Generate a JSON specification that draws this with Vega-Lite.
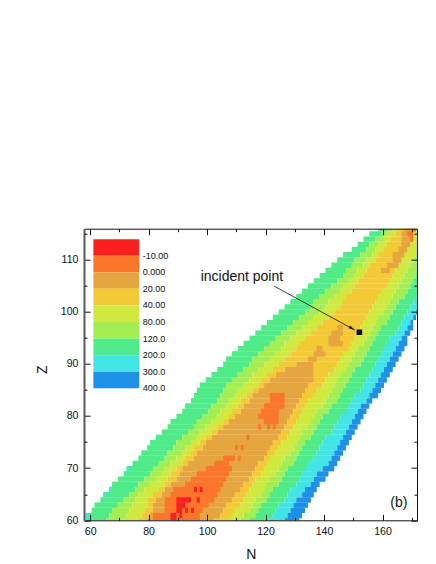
{"$schema":"https://vega.github.io/schema/vega-lite/v6.json","width":333,"height":291.6,"autosize":{"type":"none"},"padding":{"left":84,"top":228.7,"right":19,"bottom":43.7},"background":"white","config":{"view":{"stroke":null},"font":"Liberation Sans","axis":{"grid":false,"labelFont":"Liberation Sans","titleFont":"Liberation Sans","labelColor":"#111","titleColor":"#111","tickColor":"#111","domainColor":"#111"}},"resolve":{"axis":{"x":"independent","y":"independent"}},
"datasets":{"anchor":[{"N":100,"Z":100}],"key":[{"c":"r","a":61.1,"b":76.8,"Z":113.9,"Z2":110.72,"t":"-10.00"},{"c":"o","a":61.1,"b":76.8,"Z":110.72,"Z2":107.54,"t":"0.000"},{"c":"t","a":61.1,"b":76.8,"Z":107.54,"Z2":104.37,"t":"20.00"},{"c":"y","a":61.1,"b":76.8,"Z":104.37,"Z2":101.19,"t":"40.00"},{"c":"v","a":61.1,"b":76.8,"Z":101.19,"Z2":98.01,"t":"80.00"},{"c":"l","a":61.1,"b":76.8,"Z":98.01,"Z2":94.83,"t":"120.0"},{"c":"g","a":61.1,"b":76.8,"Z":94.83,"Z2":91.66,"t":"200.0"},{"c":"c","a":61.1,"b":76.8,"Z":91.66,"Z2":88.48,"t":"300.0"},{"c":"b","a":61.1,"b":76.8,"Z":88.48,"Z2":85.3,"t":"400.0"}],
"cells":[
{"Z":60,"N":58.5,"N2":65.5,"c":"g"},{"Z":60,"N":65.5,"N2":71.5,"c":"l"},{"Z":60,"N":71.5,"N2":76.5,"c":"v"},{"Z":60,"N":76.5,"N2":79.5,"c":"y"},{"Z":60,"N":79.5,"N2":102.5,"c":"t"},{"Z":60,"N":102.5,"N2":107.5,"c":"y"},{"Z":60,"N":107.5,"N2":111.5,"c":"v"},{"Z":60,"N":111.5,"N2":114.5,"c":"l"},{"Z":60,"N":114.5,"N2":120.5,"c":"g"},{"Z":60,"N":120.5,"N2":126.5,"c":"c"},{"Z":60,"N":126.5,"N2":131.5,"c":"b"},
{"Z":61,"N":58.5,"N2":66.5,"c":"g"},{"Z":61,"N":66.5,"N2":72.5,"c":"l"},{"Z":61,"N":72.5,"N2":77.5,"c":"v"},{"Z":61,"N":77.5,"N2":80.5,"c":"y"},{"Z":61,"N":80.5,"N2":104.5,"c":"t"},{"Z":61,"N":104.5,"N2":108.5,"c":"y"},{"Z":61,"N":108.5,"N2":112.5,"c":"v"},{"Z":61,"N":112.5,"N2":116.5,"c":"l"},{"Z":61,"N":116.5,"N2":122.5,"c":"g"},{"Z":61,"N":122.5,"N2":127.5,"c":"c"},{"Z":61,"N":127.5,"N2":132.5,"c":"b"},
{"Z":62,"N":60.5,"N2":67.5,"c":"g"},{"Z":62,"N":67.5,"N2":73.5,"c":"l"},{"Z":62,"N":73.5,"N2":78.5,"c":"v"},{"Z":62,"N":78.5,"N2":81.5,"c":"y"},{"Z":62,"N":81.5,"N2":105.5,"c":"t"},{"Z":62,"N":105.5,"N2":109.5,"c":"y"},{"Z":62,"N":109.5,"N2":114.5,"c":"v"},{"Z":62,"N":114.5,"N2":117.5,"c":"l"},{"Z":62,"N":117.5,"N2":123.5,"c":"g"},{"Z":62,"N":123.5,"N2":128.5,"c":"c"},{"Z":62,"N":128.5,"N2":133.5,"c":"b"},
{"Z":63,"N":61.5,"N2":69.5,"c":"g"},{"Z":63,"N":69.5,"N2":74.5,"c":"l"},{"Z":63,"N":74.5,"N2":79.5,"c":"v"},{"Z":63,"N":79.5,"N2":81.5,"c":"y"},{"Z":63,"N":81.5,"N2":106.5,"c":"t"},{"Z":63,"N":106.5,"N2":111.5,"c":"y"},{"Z":63,"N":111.5,"N2":115.5,"c":"v"},{"Z":63,"N":115.5,"N2":118.5,"c":"l"},{"Z":63,"N":118.5,"N2":124.5,"c":"g"},{"Z":63,"N":124.5,"N2":129.5,"c":"c"},{"Z":63,"N":129.5,"N2":134.5,"c":"b"},
{"Z":64,"N":63.5,"N2":71.5,"c":"g"},{"Z":64,"N":71.5,"N2":75.5,"c":"l"},{"Z":64,"N":75.5,"N2":79.5,"c":"v"},{"Z":64,"N":79.5,"N2":82.5,"c":"y"},{"Z":64,"N":82.5,"N2":108.5,"c":"t"},{"Z":64,"N":108.5,"N2":112.5,"c":"y"},{"Z":64,"N":112.5,"N2":116.5,"c":"v"},{"Z":64,"N":116.5,"N2":120.5,"c":"l"},{"Z":64,"N":120.5,"N2":126.5,"c":"g"},{"Z":64,"N":126.5,"N2":130.5,"c":"c"},{"Z":64,"N":130.5,"N2":135.5,"c":"b"},
{"Z":65,"N":64.5,"N2":73.5,"c":"g"},{"Z":65,"N":73.5,"N2":76.5,"c":"l"},{"Z":65,"N":76.5,"N2":81.5,"c":"v"},{"Z":65,"N":81.5,"N2":84.5,"c":"y"},{"Z":65,"N":84.5,"N2":109.5,"c":"t"},{"Z":65,"N":109.5,"N2":113.5,"c":"y"},{"Z":65,"N":113.5,"N2":118.5,"c":"v"},{"Z":65,"N":118.5,"N2":121.5,"c":"l"},{"Z":65,"N":121.5,"N2":127.5,"c":"g"},{"Z":65,"N":127.5,"N2":132.5,"c":"c"},{"Z":65,"N":132.5,"N2":136.5,"c":"b"},
{"Z":66,"N":66.5,"N2":75.5,"c":"g"},{"Z":66,"N":75.5,"N2":78.5,"c":"l"},{"Z":66,"N":78.5,"N2":83.5,"c":"v"},{"Z":66,"N":83.5,"N2":85.5,"c":"y"},{"Z":66,"N":85.5,"N2":111.5,"c":"t"},{"Z":66,"N":111.5,"N2":114.5,"c":"y"},{"Z":66,"N":114.5,"N2":119.5,"c":"v"},{"Z":66,"N":119.5,"N2":122.5,"c":"l"},{"Z":66,"N":122.5,"N2":128.5,"c":"g"},{"Z":66,"N":128.5,"N2":133.5,"c":"c"},{"Z":66,"N":133.5,"N2":137.5,"c":"b"},
{"Z":67,"N":67.5,"N2":76.5,"c":"g"},{"Z":67,"N":76.5,"N2":80.5,"c":"l"},{"Z":67,"N":80.5,"N2":85.5,"c":"v"},{"Z":67,"N":85.5,"N2":87.5,"c":"y"},{"Z":67,"N":87.5,"N2":112.5,"c":"t"},{"Z":67,"N":112.5,"N2":115.5,"c":"y"},{"Z":67,"N":115.5,"N2":120.5,"c":"v"},{"Z":67,"N":120.5,"N2":124.5,"c":"l"},{"Z":67,"N":124.5,"N2":130.5,"c":"g"},{"Z":67,"N":130.5,"N2":135.5,"c":"c"},{"Z":67,"N":135.5,"N2":138.5,"c":"b"},
{"Z":68,"N":69.5,"N2":78.5,"c":"g"},{"Z":68,"N":78.5,"N2":82.5,"c":"l"},{"Z":68,"N":82.5,"N2":86.5,"c":"v"},{"Z":68,"N":86.5,"N2":89.5,"c":"y"},{"Z":68,"N":89.5,"N2":114.5,"c":"t"},{"Z":68,"N":114.5,"N2":116.5,"c":"y"},{"Z":68,"N":116.5,"N2":121.5,"c":"v"},{"Z":68,"N":121.5,"N2":125.5,"c":"l"},{"Z":68,"N":125.5,"N2":131.5,"c":"g"},{"Z":68,"N":131.5,"N2":136.5,"c":"c"},{"Z":68,"N":136.5,"N2":140.5,"c":"b"},
{"Z":69,"N":71.5,"N2":80.5,"c":"g"},{"Z":69,"N":80.5,"N2":84.5,"c":"l"},{"Z":69,"N":84.5,"N2":87.5,"c":"v"},{"Z":69,"N":87.5,"N2":90.5,"c":"y"},{"Z":69,"N":90.5,"N2":115.5,"c":"t"},{"Z":69,"N":115.5,"N2":118.5,"c":"y"},{"Z":69,"N":118.5,"N2":123.5,"c":"v"},{"Z":69,"N":123.5,"N2":126.5,"c":"l"},{"Z":69,"N":126.5,"N2":132.5,"c":"g"},{"Z":69,"N":132.5,"N2":137.5,"c":"c"},{"Z":69,"N":137.5,"N2":141.5,"c":"b"},
{"Z":70,"N":72.5,"N2":81.5,"c":"g"},{"Z":70,"N":81.5,"N2":85.5,"c":"l"},{"Z":70,"N":85.5,"N2":89.5,"c":"v"},{"Z":70,"N":89.5,"N2":91.5,"c":"y"},{"Z":70,"N":91.5,"N2":116.5,"c":"t"},{"Z":70,"N":116.5,"N2":119.5,"c":"y"},{"Z":70,"N":119.5,"N2":124.5,"c":"v"},{"Z":70,"N":124.5,"N2":127.5,"c":"l"},{"Z":70,"N":127.5,"N2":133.5,"c":"g"},{"Z":70,"N":133.5,"N2":139.5,"c":"c"},{"Z":70,"N":139.5,"N2":143.5,"c":"b"},
{"Z":71,"N":74.5,"N2":83.5,"c":"g"},{"Z":71,"N":83.5,"N2":87.5,"c":"l"},{"Z":71,"N":87.5,"N2":91.5,"c":"v"},{"Z":71,"N":91.5,"N2":93.5,"c":"y"},{"Z":71,"N":93.5,"N2":117.5,"c":"t"},{"Z":71,"N":117.5,"N2":120.5,"c":"y"},{"Z":71,"N":120.5,"N2":125.5,"c":"v"},{"Z":71,"N":125.5,"N2":129.5,"c":"l"},{"Z":71,"N":129.5,"N2":134.5,"c":"g"},{"Z":71,"N":134.5,"N2":141.5,"c":"c"},{"Z":71,"N":141.5,"N2":144.5,"c":"b"},
{"Z":72,"N":76.5,"N2":85.5,"c":"g"},{"Z":72,"N":85.5,"N2":89.5,"c":"l"},{"Z":72,"N":89.5,"N2":92.5,"c":"v"},{"Z":72,"N":92.5,"N2":95.5,"c":"y"},{"Z":72,"N":95.5,"N2":119.5,"c":"t"},{"Z":72,"N":119.5,"N2":121.5,"c":"y"},{"Z":72,"N":121.5,"N2":126.5,"c":"v"},{"Z":72,"N":126.5,"N2":130.5,"c":"l"},{"Z":72,"N":130.5,"N2":136.5,"c":"g"},{"Z":72,"N":136.5,"N2":142.5,"c":"c"},{"Z":72,"N":142.5,"N2":145.5,"c":"b"},
{"Z":73,"N":77.5,"N2":86.5,"c":"g"},{"Z":73,"N":86.5,"N2":91.5,"c":"l"},{"Z":73,"N":91.5,"N2":94.5,"c":"v"},{"Z":73,"N":94.5,"N2":96.5,"c":"y"},{"Z":73,"N":96.5,"N2":120.5,"c":"t"},{"Z":73,"N":120.5,"N2":123.5,"c":"y"},{"Z":73,"N":123.5,"N2":128.5,"c":"v"},{"Z":73,"N":128.5,"N2":131.5,"c":"l"},{"Z":73,"N":131.5,"N2":137.5,"c":"g"},{"Z":73,"N":137.5,"N2":143.5,"c":"c"},{"Z":73,"N":143.5,"N2":146.5,"c":"b"},
{"Z":74,"N":79.5,"N2":88.5,"c":"g"},{"Z":74,"N":88.5,"N2":92.5,"c":"l"},{"Z":74,"N":92.5,"N2":95.5,"c":"v"},{"Z":74,"N":95.5,"N2":98.5,"c":"y"},{"Z":74,"N":98.5,"N2":121.5,"c":"t"},{"Z":74,"N":121.5,"N2":124.5,"c":"y"},{"Z":74,"N":124.5,"N2":129.5,"c":"v"},{"Z":74,"N":129.5,"N2":132.5,"c":"l"},{"Z":74,"N":132.5,"N2":138.5,"c":"g"},{"Z":74,"N":138.5,"N2":144.5,"c":"c"},{"Z":74,"N":144.5,"N2":147.5,"c":"b"},
{"Z":75,"N":80.5,"N2":89.5,"c":"g"},{"Z":75,"N":89.5,"N2":94.5,"c":"l"},{"Z":75,"N":94.5,"N2":97.5,"c":"v"},{"Z":75,"N":97.5,"N2":99.5,"c":"y"},{"Z":75,"N":99.5,"N2":122.5,"c":"t"},{"Z":75,"N":122.5,"N2":125.5,"c":"y"},{"Z":75,"N":125.5,"N2":130.5,"c":"v"},{"Z":75,"N":130.5,"N2":133.5,"c":"l"},{"Z":75,"N":133.5,"N2":139.5,"c":"g"},{"Z":75,"N":139.5,"N2":145.5,"c":"c"},{"Z":75,"N":145.5,"N2":148.5,"c":"b"},
{"Z":76,"N":82.5,"N2":91.5,"c":"g"},{"Z":76,"N":91.5,"N2":96.5,"c":"l"},{"Z":76,"N":96.5,"N2":99.5,"c":"v"},{"Z":76,"N":99.5,"N2":101.5,"c":"y"},{"Z":76,"N":101.5,"N2":124.5,"c":"t"},{"Z":76,"N":124.5,"N2":127.5,"c":"y"},{"Z":76,"N":127.5,"N2":131.5,"c":"v"},{"Z":76,"N":131.5,"N2":135.5,"c":"l"},{"Z":76,"N":135.5,"N2":140.5,"c":"g"},{"Z":76,"N":140.5,"N2":146.5,"c":"c"},{"Z":76,"N":146.5,"N2":149.5,"c":"b"},
{"Z":77,"N":84.5,"N2":93.5,"c":"g"},{"Z":77,"N":93.5,"N2":97.5,"c":"l"},{"Z":77,"N":97.5,"N2":101.5,"c":"v"},{"Z":77,"N":101.5,"N2":103.5,"c":"y"},{"Z":77,"N":103.5,"N2":125.5,"c":"t"},{"Z":77,"N":125.5,"N2":128.5,"c":"y"},{"Z":77,"N":128.5,"N2":132.5,"c":"v"},{"Z":77,"N":132.5,"N2":136.5,"c":"l"},{"Z":77,"N":136.5,"N2":142.5,"c":"g"},{"Z":77,"N":142.5,"N2":147.5,"c":"c"},{"Z":77,"N":147.5,"N2":150.5,"c":"b"},
{"Z":78,"N":86.5,"N2":95.5,"c":"g"},{"Z":78,"N":95.5,"N2":99.5,"c":"l"},{"Z":78,"N":99.5,"N2":103.5,"c":"v"},{"Z":78,"N":103.5,"N2":105.5,"c":"y"},{"Z":78,"N":105.5,"N2":126.5,"c":"t"},{"Z":78,"N":126.5,"N2":129.5,"c":"y"},{"Z":78,"N":129.5,"N2":134.5,"c":"v"},{"Z":78,"N":134.5,"N2":137.5,"c":"l"},{"Z":78,"N":137.5,"N2":143.5,"c":"g"},{"Z":78,"N":143.5,"N2":148.5,"c":"c"},{"Z":78,"N":148.5,"N2":151.5,"c":"b"},
{"Z":79,"N":87.5,"N2":96.5,"c":"g"},{"Z":79,"N":96.5,"N2":101.5,"c":"l"},{"Z":79,"N":101.5,"N2":105.5,"c":"v"},{"Z":79,"N":105.5,"N2":107.5,"c":"y"},{"Z":79,"N":107.5,"N2":127.5,"c":"t"},{"Z":79,"N":127.5,"N2":130.5,"c":"y"},{"Z":79,"N":130.5,"N2":135.5,"c":"v"},{"Z":79,"N":135.5,"N2":138.5,"c":"l"},{"Z":79,"N":138.5,"N2":144.5,"c":"g"},{"Z":79,"N":144.5,"N2":149.5,"c":"c"},{"Z":79,"N":149.5,"N2":152.5,"c":"b"},
{"Z":80,"N":89.5,"N2":98.5,"c":"g"},{"Z":80,"N":98.5,"N2":103.5,"c":"l"},{"Z":80,"N":103.5,"N2":107.5,"c":"v"},{"Z":80,"N":107.5,"N2":109.5,"c":"y"},{"Z":80,"N":109.5,"N2":128.5,"c":"t"},{"Z":80,"N":128.5,"N2":131.5,"c":"y"},{"Z":80,"N":131.5,"N2":136.5,"c":"v"},{"Z":80,"N":136.5,"N2":139.5,"c":"l"},{"Z":80,"N":139.5,"N2":145.5,"c":"g"},{"Z":80,"N":145.5,"N2":150.5,"c":"c"},{"Z":80,"N":150.5,"N2":153.5,"c":"b"},
{"Z":81,"N":91.5,"N2":100.5,"c":"g"},{"Z":81,"N":100.5,"N2":104.5,"c":"l"},{"Z":81,"N":104.5,"N2":108.5,"c":"v"},{"Z":81,"N":108.5,"N2":111.5,"c":"y"},{"Z":81,"N":111.5,"N2":129.5,"c":"t"},{"Z":81,"N":129.5,"N2":132.5,"c":"y"},{"Z":81,"N":132.5,"N2":137.5,"c":"v"},{"Z":81,"N":137.5,"N2":141.5,"c":"l"},{"Z":81,"N":141.5,"N2":147.5,"c":"g"},{"Z":81,"N":147.5,"N2":151.5,"c":"c"},{"Z":81,"N":151.5,"N2":154.5,"c":"b"},
{"Z":82,"N":92.5,"N2":101.5,"c":"g"},{"Z":82,"N":101.5,"N2":106.5,"c":"l"},{"Z":82,"N":106.5,"N2":110.5,"c":"v"},{"Z":82,"N":110.5,"N2":112.5,"c":"y"},{"Z":82,"N":112.5,"N2":130.5,"c":"t"},{"Z":82,"N":130.5,"N2":133.5,"c":"y"},{"Z":82,"N":133.5,"N2":139.5,"c":"v"},{"Z":82,"N":139.5,"N2":142.5,"c":"l"},{"Z":82,"N":142.5,"N2":148.5,"c":"g"},{"Z":82,"N":148.5,"N2":152.5,"c":"c"},{"Z":82,"N":152.5,"N2":155.5,"c":"b"},
{"Z":83,"N":94.5,"N2":103.5,"c":"g"},{"Z":83,"N":103.5,"N2":107.5,"c":"l"},{"Z":83,"N":107.5,"N2":111.5,"c":"v"},{"Z":83,"N":111.5,"N2":114.5,"c":"y"},{"Z":83,"N":114.5,"N2":131.5,"c":"t"},{"Z":83,"N":131.5,"N2":134.5,"c":"y"},{"Z":83,"N":134.5,"N2":140.5,"c":"v"},{"Z":83,"N":140.5,"N2":144.5,"c":"l"},{"Z":83,"N":144.5,"N2":149.5,"c":"g"},{"Z":83,"N":149.5,"N2":154.5,"c":"c"},{"Z":83,"N":154.5,"N2":156.5,"c":"b"},
{"Z":84,"N":95.5,"N2":104.5,"c":"g"},{"Z":84,"N":104.5,"N2":109.5,"c":"l"},{"Z":84,"N":109.5,"N2":113.5,"c":"v"},{"Z":84,"N":113.5,"N2":115.5,"c":"y"},{"Z":84,"N":115.5,"N2":132.5,"c":"t"},{"Z":84,"N":132.5,"N2":136.5,"c":"y"},{"Z":84,"N":136.5,"N2":141.5,"c":"v"},{"Z":84,"N":141.5,"N2":145.5,"c":"l"},{"Z":84,"N":145.5,"N2":150.5,"c":"g"},{"Z":84,"N":150.5,"N2":155.5,"c":"c"},{"Z":84,"N":155.5,"N2":158.5,"c":"b"},
{"Z":85,"N":96.5,"N2":105.5,"c":"g"},{"Z":85,"N":105.5,"N2":110.5,"c":"l"},{"Z":85,"N":110.5,"N2":115.5,"c":"v"},{"Z":85,"N":115.5,"N2":117.5,"c":"y"},{"Z":85,"N":117.5,"N2":133.5,"c":"t"},{"Z":85,"N":133.5,"N2":137.5,"c":"y"},{"Z":85,"N":137.5,"N2":142.5,"c":"v"},{"Z":85,"N":142.5,"N2":146.5,"c":"l"},{"Z":85,"N":146.5,"N2":152.5,"c":"g"},{"Z":85,"N":152.5,"N2":156.5,"c":"c"},{"Z":85,"N":156.5,"N2":159.5,"c":"b"},
{"Z":86,"N":97.5,"N2":106.5,"c":"g"},{"Z":86,"N":106.5,"N2":112.5,"c":"l"},{"Z":86,"N":112.5,"N2":117.5,"c":"v"},{"Z":86,"N":117.5,"N2":119.5,"c":"y"},{"Z":86,"N":119.5,"N2":134.5,"c":"t"},{"Z":86,"N":134.5,"N2":139.5,"c":"y"},{"Z":86,"N":139.5,"N2":143.5,"c":"v"},{"Z":86,"N":143.5,"N2":147.5,"c":"l"},{"Z":86,"N":147.5,"N2":153.5,"c":"g"},{"Z":86,"N":153.5,"N2":157.5,"c":"c"},{"Z":86,"N":157.5,"N2":160.5,"c":"b"},
{"Z":87,"N":99.5,"N2":108.5,"c":"g"},{"Z":87,"N":108.5,"N2":114.5,"c":"l"},{"Z":87,"N":114.5,"N2":118.5,"c":"v"},{"Z":87,"N":118.5,"N2":121.5,"c":"y"},{"Z":87,"N":121.5,"N2":136.5,"c":"t"},{"Z":87,"N":136.5,"N2":140.5,"c":"y"},{"Z":87,"N":140.5,"N2":144.5,"c":"v"},{"Z":87,"N":144.5,"N2":148.5,"c":"l"},{"Z":87,"N":148.5,"N2":154.5,"c":"g"},{"Z":87,"N":154.5,"N2":158.5,"c":"c"},{"Z":87,"N":158.5,"N2":161.5,"c":"b"},
{"Z":88,"N":101.5,"N2":110.5,"c":"g"},{"Z":88,"N":110.5,"N2":115.5,"c":"l"},{"Z":88,"N":115.5,"N2":120.5,"c":"v"},{"Z":88,"N":120.5,"N2":123.5,"c":"y"},{"Z":88,"N":123.5,"N2":136.5,"c":"t"},{"Z":88,"N":136.5,"N2":141.5,"c":"y"},{"Z":88,"N":141.5,"N2":145.5,"c":"v"},{"Z":88,"N":145.5,"N2":149.5,"c":"l"},{"Z":88,"N":149.5,"N2":155.5,"c":"g"},{"Z":88,"N":155.5,"N2":159.5,"c":"c"},{"Z":88,"N":159.5,"N2":162.5,"c":"b"},
{"Z":89,"N":103.5,"N2":112.5,"c":"g"},{"Z":89,"N":112.5,"N2":117.5,"c":"l"},{"Z":89,"N":117.5,"N2":122.5,"c":"v"},{"Z":89,"N":122.5,"N2":126.5,"c":"y"},{"Z":89,"N":126.5,"N2":136.5,"c":"t"},{"Z":89,"N":136.5,"N2":143.5,"c":"y"},{"Z":89,"N":143.5,"N2":147.5,"c":"v"},{"Z":89,"N":147.5,"N2":150.5,"c":"l"},{"Z":89,"N":150.5,"N2":156.5,"c":"g"},{"Z":89,"N":156.5,"N2":160.5,"c":"c"},{"Z":89,"N":160.5,"N2":163.5,"c":"b"},
{"Z":90,"N":105.5,"N2":114.5,"c":"g"},{"Z":90,"N":114.5,"N2":119.5,"c":"l"},{"Z":90,"N":119.5,"N2":124.5,"c":"v"},{"Z":90,"N":124.5,"N2":130.5,"c":"y"},{"Z":90,"N":130.5,"N2":136.5,"c":"t"},{"Z":90,"N":136.5,"N2":144.5,"c":"y"},{"Z":90,"N":144.5,"N2":148.5,"c":"v"},{"Z":90,"N":148.5,"N2":152.5,"c":"l"},{"Z":90,"N":152.5,"N2":157.5,"c":"g"},{"Z":90,"N":157.5,"N2":161.5,"c":"c"},{"Z":90,"N":161.5,"N2":164.5,"c":"b"},
{"Z":91,"N":106.5,"N2":115.5,"c":"g"},{"Z":91,"N":115.5,"N2":121.5,"c":"l"},{"Z":91,"N":121.5,"N2":126.5,"c":"v"},{"Z":91,"N":126.5,"N2":145.5,"c":"y"},{"Z":91,"N":145.5,"N2":149.5,"c":"v"},{"Z":91,"N":149.5,"N2":153.5,"c":"l"},{"Z":91,"N":153.5,"N2":158.5,"c":"g"},{"Z":91,"N":158.5,"N2":162.5,"c":"c"},{"Z":91,"N":162.5,"N2":165.5,"c":"b"},
{"Z":92,"N":108.5,"N2":117.5,"c":"g"},{"Z":92,"N":117.5,"N2":123.5,"c":"l"},{"Z":92,"N":123.5,"N2":128.5,"c":"v"},{"Z":92,"N":128.5,"N2":146.5,"c":"y"},{"Z":92,"N":146.5,"N2":150.5,"c":"v"},{"Z":92,"N":150.5,"N2":154.5,"c":"l"},{"Z":92,"N":154.5,"N2":159.5,"c":"g"},{"Z":92,"N":159.5,"N2":163.5,"c":"c"},{"Z":92,"N":163.5,"N2":166.5,"c":"b"},
{"Z":93,"N":110.5,"N2":119.5,"c":"g"},{"Z":93,"N":119.5,"N2":125.5,"c":"l"},{"Z":93,"N":125.5,"N2":130.5,"c":"v"},{"Z":93,"N":130.5,"N2":148.5,"c":"y"},{"Z":93,"N":148.5,"N2":151.5,"c":"v"},{"Z":93,"N":151.5,"N2":155.5,"c":"l"},{"Z":93,"N":155.5,"N2":160.5,"c":"g"},{"Z":93,"N":160.5,"N2":164.5,"c":"c"},{"Z":93,"N":164.5,"N2":167.5,"c":"b"},
{"Z":94,"N":112.5,"N2":121.5,"c":"g"},{"Z":94,"N":121.5,"N2":126.5,"c":"l"},{"Z":94,"N":126.5,"N2":131.5,"c":"v"},{"Z":94,"N":131.5,"N2":149.5,"c":"y"},{"Z":94,"N":149.5,"N2":153.5,"c":"v"},{"Z":94,"N":153.5,"N2":156.5,"c":"l"},{"Z":94,"N":156.5,"N2":161.5,"c":"g"},{"Z":94,"N":161.5,"N2":165.5,"c":"c"},{"Z":94,"N":165.5,"N2":168.5,"c":"b"},
{"Z":95,"N":114.5,"N2":123.5,"c":"g"},{"Z":95,"N":123.5,"N2":128.5,"c":"l"},{"Z":95,"N":128.5,"N2":133.5,"c":"v"},{"Z":95,"N":133.5,"N2":150.5,"c":"y"},{"Z":95,"N":150.5,"N2":154.5,"c":"v"},{"Z":95,"N":154.5,"N2":157.5,"c":"l"},{"Z":95,"N":157.5,"N2":162.5,"c":"g"},{"Z":95,"N":162.5,"N2":166.5,"c":"c"},{"Z":95,"N":166.5,"N2":168.5,"c":"b"},
{"Z":96,"N":116.5,"N2":125.5,"c":"g"},{"Z":96,"N":125.5,"N2":130.5,"c":"l"},{"Z":96,"N":130.5,"N2":135.5,"c":"v"},{"Z":96,"N":135.5,"N2":151.5,"c":"y"},{"Z":96,"N":151.5,"N2":155.5,"c":"v"},{"Z":96,"N":155.5,"N2":158.5,"c":"l"},{"Z":96,"N":158.5,"N2":164.5,"c":"g"},{"Z":96,"N":164.5,"N2":167.5,"c":"c"},{"Z":96,"N":167.5,"N2":169.5,"c":"b"},
{"Z":97,"N":118.5,"N2":127.5,"c":"g"},{"Z":97,"N":127.5,"N2":132.5,"c":"l"},{"Z":97,"N":132.5,"N2":137.5,"c":"v"},{"Z":97,"N":137.5,"N2":152.5,"c":"y"},{"Z":97,"N":152.5,"N2":156.5,"c":"v"},{"Z":97,"N":156.5,"N2":159.5,"c":"l"},{"Z":97,"N":159.5,"N2":165.5,"c":"g"},{"Z":97,"N":165.5,"N2":168.5,"c":"c"},{"Z":97,"N":168.5,"N2":170.5,"c":"b"},
{"Z":98,"N":120.5,"N2":129.5,"c":"g"},{"Z":98,"N":129.5,"N2":134.5,"c":"l"},{"Z":98,"N":134.5,"N2":139.5,"c":"v"},{"Z":98,"N":139.5,"N2":153.5,"c":"y"},{"Z":98,"N":153.5,"N2":157.5,"c":"v"},{"Z":98,"N":157.5,"N2":161.5,"c":"l"},{"Z":98,"N":161.5,"N2":166.5,"c":"g"},{"Z":98,"N":166.5,"N2":169.5,"c":"c"},{"Z":98,"N":169.5,"N2":170.5,"c":"b"},
{"Z":99,"N":122.5,"N2":131.5,"c":"g"},{"Z":99,"N":131.5,"N2":136.5,"c":"l"},{"Z":99,"N":136.5,"N2":141.5,"c":"v"},{"Z":99,"N":141.5,"N2":154.5,"c":"y"},{"Z":99,"N":154.5,"N2":158.5,"c":"v"},{"Z":99,"N":158.5,"N2":162.5,"c":"l"},{"Z":99,"N":162.5,"N2":167.5,"c":"g"},{"Z":99,"N":167.5,"N2":170.5,"c":"c"},{"Z":99,"N":170.5,"N2":171.5,"c":"b"},
{"Z":100,"N":124.5,"N2":133.5,"c":"g"},{"Z":100,"N":133.5,"N2":138.5,"c":"l"},{"Z":100,"N":138.5,"N2":143.5,"c":"v"},{"Z":100,"N":143.5,"N2":155.5,"c":"y"},{"Z":100,"N":155.5,"N2":160.5,"c":"v"},{"Z":100,"N":160.5,"N2":163.5,"c":"l"},{"Z":100,"N":163.5,"N2":168.5,"c":"g"},{"Z":100,"N":168.5,"N2":171.5,"c":"c"},{"Z":100,"N":171.5,"N2":172,"c":"b"},
{"Z":101,"N":126.5,"N2":135.5,"c":"g"},{"Z":101,"N":135.5,"N2":140.5,"c":"l"},{"Z":101,"N":140.5,"N2":145.5,"c":"v"},{"Z":101,"N":145.5,"N2":156.5,"c":"y"},{"Z":101,"N":156.5,"N2":161.5,"c":"v"},{"Z":101,"N":161.5,"N2":164.5,"c":"l"},{"Z":101,"N":164.5,"N2":169.5,"c":"g"},{"Z":101,"N":169.5,"N2":172,"c":"c"},
{"Z":102,"N":128.5,"N2":136.5,"c":"g"},{"Z":102,"N":136.5,"N2":141.5,"c":"l"},{"Z":102,"N":141.5,"N2":146.5,"c":"v"},{"Z":102,"N":146.5,"N2":157.5,"c":"y"},{"Z":102,"N":157.5,"N2":162.5,"c":"v"},{"Z":102,"N":162.5,"N2":165.5,"c":"l"},{"Z":102,"N":165.5,"N2":170.5,"c":"g"},{"Z":102,"N":170.5,"N2":172,"c":"c"},
{"Z":103,"N":130.5,"N2":138.5,"c":"g"},{"Z":103,"N":138.5,"N2":143.5,"c":"l"},{"Z":103,"N":143.5,"N2":147.5,"c":"v"},{"Z":103,"N":147.5,"N2":158.5,"c":"y"},{"Z":103,"N":158.5,"N2":163.5,"c":"v"},{"Z":103,"N":163.5,"N2":167.5,"c":"l"},{"Z":103,"N":167.5,"N2":171.5,"c":"g"},{"Z":103,"N":171.5,"N2":172,"c":"c"},
{"Z":104,"N":132.5,"N2":140.5,"c":"g"},{"Z":104,"N":140.5,"N2":145.5,"c":"l"},{"Z":104,"N":145.5,"N2":149.5,"c":"v"},{"Z":104,"N":149.5,"N2":159.5,"c":"y"},{"Z":104,"N":159.5,"N2":164.5,"c":"v"},{"Z":104,"N":164.5,"N2":168.5,"c":"l"},{"Z":104,"N":168.5,"N2":172,"c":"g"},
{"Z":105,"N":134.5,"N2":142.5,"c":"g"},{"Z":105,"N":142.5,"N2":146.5,"c":"l"},{"Z":105,"N":146.5,"N2":150.5,"c":"v"},{"Z":105,"N":150.5,"N2":161.5,"c":"y"},{"Z":105,"N":161.5,"N2":165.5,"c":"v"},{"Z":105,"N":165.5,"N2":169.5,"c":"l"},{"Z":105,"N":169.5,"N2":172,"c":"g"},
{"Z":106,"N":136.5,"N2":144.5,"c":"g"},{"Z":106,"N":144.5,"N2":148.5,"c":"l"},{"Z":106,"N":148.5,"N2":151.5,"c":"v"},{"Z":106,"N":151.5,"N2":162.5,"c":"y"},{"Z":106,"N":162.5,"N2":166.5,"c":"v"},{"Z":106,"N":166.5,"N2":170.5,"c":"l"},{"Z":106,"N":170.5,"N2":172,"c":"g"},
{"Z":107,"N":138.5,"N2":146.5,"c":"g"},{"Z":107,"N":146.5,"N2":150.5,"c":"l"},{"Z":107,"N":150.5,"N2":153.5,"c":"v"},{"Z":107,"N":153.5,"N2":163.5,"c":"y"},{"Z":107,"N":163.5,"N2":167.5,"c":"v"},{"Z":107,"N":167.5,"N2":171.5,"c":"l"},{"Z":107,"N":171.5,"N2":172,"c":"g"},
{"Z":108,"N":140.5,"N2":147.5,"c":"g"},{"Z":108,"N":147.5,"N2":151.5,"c":"l"},{"Z":108,"N":151.5,"N2":154.5,"c":"v"},{"Z":108,"N":154.5,"N2":164.5,"c":"y"},{"Z":108,"N":164.5,"N2":168.5,"c":"v"},{"Z":108,"N":168.5,"N2":172,"c":"l"},
{"Z":109,"N":142.5,"N2":149.5,"c":"g"},{"Z":109,"N":149.5,"N2":153.5,"c":"l"},{"Z":109,"N":153.5,"N2":155.5,"c":"v"},{"Z":109,"N":155.5,"N2":165.5,"c":"y"},{"Z":109,"N":165.5,"N2":169.5,"c":"v"},{"Z":109,"N":169.5,"N2":172,"c":"l"},
{"Z":110,"N":144.5,"N2":150.5,"c":"g"},{"Z":110,"N":150.5,"N2":154.5,"c":"l"},{"Z":110,"N":154.5,"N2":157.5,"c":"v"},{"Z":110,"N":157.5,"N2":166.5,"c":"y"},{"Z":110,"N":166.5,"N2":170.5,"c":"v"},{"Z":110,"N":170.5,"N2":172,"c":"l"},
{"Z":111,"N":146.5,"N2":152.5,"c":"g"},{"Z":111,"N":152.5,"N2":156.5,"c":"l"},{"Z":111,"N":156.5,"N2":158.5,"c":"v"},{"Z":111,"N":158.5,"N2":167.5,"c":"y"},{"Z":111,"N":167.5,"N2":171.5,"c":"v"},{"Z":111,"N":171.5,"N2":172,"c":"l"},
{"Z":112,"N":149.5,"N2":154.5,"c":"g"},{"Z":112,"N":154.5,"N2":157.5,"c":"l"},{"Z":112,"N":157.5,"N2":160.5,"c":"v"},{"Z":112,"N":160.5,"N2":168.5,"c":"y"},{"Z":112,"N":168.5,"N2":172,"c":"v"},
{"Z":113,"N":151.5,"N2":155.5,"c":"g"},{"Z":113,"N":155.5,"N2":158.5,"c":"l"},{"Z":113,"N":158.5,"N2":161.5,"c":"v"},{"Z":113,"N":161.5,"N2":169.5,"c":"y"},{"Z":113,"N":169.5,"N2":172,"c":"v"},
{"Z":114,"N":153.5,"N2":157.5,"c":"g"},{"Z":114,"N":157.5,"N2":160.5,"c":"l"},{"Z":114,"N":160.5,"N2":162.5,"c":"v"},{"Z":114,"N":162.5,"N2":170.5,"c":"y"},{"Z":114,"N":170.5,"N2":172,"c":"v"},
{"Z":115,"N":155.5,"N2":159.5,"c":"g"},{"Z":115,"N":159.5,"N2":161.5,"c":"l"},{"Z":115,"N":161.5,"N2":164.5,"c":"v"},{"Z":115,"N":164.5,"N2":170.5,"c":"y"},{"Z":115,"N":170.5,"N2":172,"c":"v"},
{"Z":116,"N":158.5,"N2":161.5,"c":"g"},{"Z":116,"N":161.5,"N2":163.5,"c":"l"},{"Z":116,"N":163.5,"N2":165.5,"c":"v"},{"Z":116,"N":165.5,"N2":171.5,"c":"y"},{"Z":116,"N":171.5,"N2":172,"c":"v"},
{"Z":61,"N":58.5,"N2":59.5,"c":"c"},{"Z":60,"N":58.5,"N2":59.5,"c":"c"},{"Z":65,"N":64.5,"N2":65.5,"c":"c"},{"Z":66,"N":66.5,"N2":67.5,"c":"c"},{"Z":70,"N":72.5,"N2":73.5,"c":"c"},
{"Z":91,"N":134.5,"N2":137.5,"c":"t"},{"Z":92,"N":136.5,"N2":140.5,"c":"t"},{"Z":93,"N":137.5,"N2":139.5,"c":"t"},{"Z":94,"N":141.5,"N2":146.5,"c":"t"},{"Z":95,"N":141.5,"N2":145.5,"c":"t"},{"Z":96,"N":142.5,"N2":146.5,"c":"t"},{"Z":97,"N":144.5,"N2":146.5,"c":"t"},
{"Z":108,"N":159.5,"N2":162.5,"c":"t"},{"Z":109,"N":161.5,"N2":165.5,"c":"t"},{"Z":110,"N":163.5,"N2":166.5,"c":"t"},{"Z":111,"N":163.5,"N2":167.5,"c":"t"},{"Z":112,"N":165.5,"N2":168.5,"c":"t"},{"Z":113,"N":166.5,"N2":169.5,"c":"t"},{"Z":114,"N":166.5,"N2":170.5,"c":"t"},{"Z":115,"N":166.5,"N2":170.5,"c":"t"},{"Z":116,"N":167.5,"N2":171.5,"c":"t"},
{"Z":114,"N":169.5,"N2":170.5,"c":"o"},{"Z":115,"N":168.5,"N2":170.5,"c":"o"},{"Z":116,"N":170.5,"N2":171.5,"c":"o"},
{"Z":60,"N":81.5,"N2":97.5,"c":"o"},{"Z":61,"N":81.5,"N2":97.5,"c":"o"},{"Z":62,"N":85.5,"N2":98.5,"c":"o"},{"Z":63,"N":85.5,"N2":100.5,"c":"o"},{"Z":64,"N":85.5,"N2":102.5,"c":"o"},{"Z":65,"N":87.5,"N2":103.5,"c":"o"},{"Z":66,"N":88.5,"N2":104.5,"c":"o"},{"Z":67,"N":92.5,"N2":105.5,"c":"o"},{"Z":68,"N":94.5,"N2":106.5,"c":"o"},{"Z":69,"N":96.5,"N2":107.5,"c":"o"},{"Z":70,"N":99.5,"N2":108.5,"c":"o"},{"Z":71,"N":102.5,"N2":107.5,"c":"o"},{"Z":72,"N":105.5,"N2":109.5,"c":"o"},{"Z":72,"N":110.5,"N2":111.5,"c":"o"},{"Z":74,"N":109.5,"N2":110.5,"c":"o"},{"Z":74,"N":111.5,"N2":112.5,"c":"o"},{"Z":76,"N":113.5,"N2":114.5,"c":"o"},
{"Z":78,"N":117.5,"N2":118.5,"c":"o"},{"Z":78,"N":120.5,"N2":121.5,"c":"o"},{"Z":78,"N":122.5,"N2":123.5,"c":"o"},{"Z":79,"N":119.5,"N2":124.5,"c":"o"},{"Z":80,"N":117.5,"N2":124.5,"c":"o"},{"Z":81,"N":118.5,"N2":124.5,"c":"o"},{"Z":82,"N":119.5,"N2":126.5,"c":"o"},{"Z":83,"N":121.5,"N2":126.5,"c":"o"},{"Z":84,"N":121.5,"N2":126.5,"c":"o"},
{"Z":60,"N":87.5,"N2":89.5,"c":"r"},{"Z":61,"N":87.5,"N2":89.5,"c":"r"},{"Z":61,"N":90.5,"N2":91.5,"c":"r"},{"Z":62,"N":89.5,"N2":91.5,"c":"r"},{"Z":62,"N":92.5,"N2":93.5,"c":"r"},{"Z":62,"N":94.5,"N2":95.5,"c":"r"},{"Z":63,"N":89.5,"N2":92.5,"c":"r"},{"Z":64,"N":89.5,"N2":94.5,"c":"r"},{"Z":64,"N":96.5,"N2":97.5,"c":"r"},{"Z":66,"N":95.5,"N2":96.5,"c":"r"},{"Z":66,"N":97.5,"N2":98.5,"c":"r"}
]},
"layer":[
{"data":{"name":"cells"},"mark":{"type":"bar","orient":"horizontal","size":5.4,"yOffset":0.52,"clip":true},"encoding":{"x":{"field":"N","type":"quantitative","scale":{"domain":[57.9,171.8],"nice":false,"zero":false,"padding":0},"axis":{"values":[60,80,100,120,140,160],"orient":"bottom","title":"N","titleFontSize":14,"titleFontWeight":"normal","titleX":166.7,"titleY":33.7,"titleBaseline":"middle","labelFontSize":10.6,"tickSize":-6,"labelPadding":12,"domainWidth":1,"zindex":1}},"x2":{"field":"N2"},"y":{"field":"Z","type":"quantitative","scale":{"domain":[60,115.9],"nice":false,"zero":false,"padding":0},"axis":{"values":[60,70,80,90,100,110],"orient":"left","title":"Z","titleFontSize":14,"titleFontWeight":"normal","titleX":-41.7,"titleY":140.6,"titleAngle":-90,"titleBaseline":"middle","labelFontSize":10.6,"tickSize":-6,"labelPadding":12,"domainWidth":2,"domainColor":"#5a5a5a","zindex":1}},"color":{"field":"c","type":"nominal","legend":null,"scale":{"domain":["r","o","t","y","v","l","g","c","b"],"range":["#FB2020","#FB752B","#E5A53F","#F4C936","#CFE93F","#A4EE55","#4FEB88","#42E5E5","#1E90E8"]}}}},
{"data":{"name":"anchor"},"mark":{"type":"point","opacity":0},"encoding":{"x":{"field":"N","type":"quantitative","axis":{"values":[60,80,100,120,140,160],"orient":"top","title":null,"labels":false,"tickSize":-6,"domainWidth":1,"zindex":1}},"y":{"field":"Z","type":"quantitative","axis":{"values":[60,70,80,90,100,110],"orient":"right","title":null,"labels":false,"tickSize":-6,"domainWidth":1,"zindex":1}}}},
{"data":{"name":"anchor"},"mark":{"type":"point","opacity":0},"encoding":{"x":{"field":"N","type":"quantitative","axis":{"values":[70,90,110,130,150,170],"orient":"bottom","title":null,"labels":false,"domain":false,"tickSize":-3,"zindex":1}},"y":{"field":"Z","type":"quantitative","axis":{"values":[65,75,85,95,105,115],"orient":"left","title":null,"labels":false,"domain":false,"tickSize":-3,"zindex":1}}}},
{"data":{"name":"anchor"},"mark":{"type":"point","opacity":0},"encoding":{"x":{"field":"N","type":"quantitative","axis":{"values":[70,90,110,130,150,170],"orient":"top","title":null,"labels":false,"domain":false,"tickSize":-3,"zindex":1}},"y":{"field":"Z","type":"quantitative","axis":{"values":[65,75,85,95,105,115],"orient":"right","title":null,"labels":false,"domain":false,"tickSize":-3,"zindex":1}}}},
{"data":{"name":"key"},"mark":{"type":"rect"},"encoding":{"x":{"field":"a","type":"quantitative","axis":null},"x2":{"field":"b"},"y":{"field":"Z","type":"quantitative","axis":null},"y2":{"field":"Z2"},"color":{"field":"c","type":"nominal","legend":null}}},
{"data":{"name":"key"},"mark":{"type":"text","align":"left","baseline":"middle","fontSize":9,"dx":3.5,"font":"Liberation Sans","color":"#111"},"encoding":{"x":{"field":"b","type":"quantitative","axis":null},"y":{"field":"Z2","type":"quantitative","axis":null},"text":{"field":"t"}}},
{"data":{"values":[{"N":122.9,"N2":150.6,"Z":104.9,"Z2":96.45}]},"mark":{"type":"rule","color":"#111","strokeWidth":0.8},"encoding":{"x":{"field":"N","type":"quantitative","axis":null},"x2":{"field":"N2"},"y":{"field":"Z","type":"quantitative","axis":null},"y2":{"field":"Z2"}}},
{"data":{"values":[{"N":149.5,"Z":96.8}]},"mark":{"type":"point","shape":"M-0.5,0.9L0,-0.9L0.5,0.9Z","angle":118.5,"filled":true,"size":40,"color":"#111","opacity":1},"encoding":{"x":{"field":"N","type":"quantitative","axis":null},"y":{"field":"Z","type":"quantitative","axis":null}}},
{"data":{"values":[{"N":152.1,"Z":96.05}]},"mark":{"type":"square","size":30,"color":"#000","opacity":1},"encoding":{"x":{"field":"N","type":"quantitative","axis":null},"y":{"field":"Z","type":"quantitative","axis":null}}},
{"data":{"values":[{"N":97.8,"Z":106.7,"t":"incident point"}]},"mark":{"type":"text","align":"left","baseline":"middle","fontSize":14,"font":"Liberation Sans","color":"#111"},"encoding":{"x":{"field":"N","type":"quantitative","axis":null},"y":{"field":"Z","type":"quantitative","axis":null},"text":{"field":"t"}}},
{"data":{"values":[{"N":165.6,"Z":63.4,"t":"(b)"}]},"mark":{"type":"text","align":"center","baseline":"middle","fontSize":14,"font":"Liberation Sans","color":"#111"},"encoding":{"x":{"field":"N","type":"quantitative","axis":null},"y":{"field":"Z","type":"quantitative","axis":null},"text":{"field":"t"}}}
]}
